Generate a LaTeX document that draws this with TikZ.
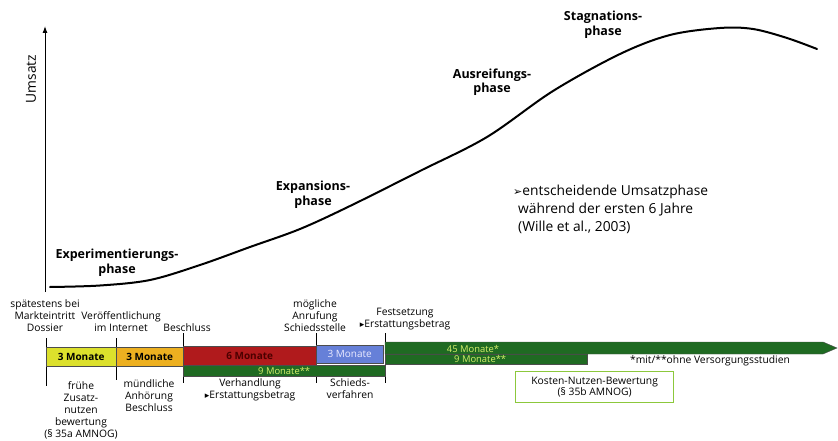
\documentclass[tikz,border=0pt]{standalone}
\usepackage{fontspec}
\setmainfont{Open Sans}
\newfontfamily\symf{DejaVu Sans}
\usetikzlibrary{arrows.meta}
\definecolor{cyel}{HTML}{DCE02C}
\definecolor{cora}{HTML}{EDB020}
\definecolor{cred}{HTML}{B01A1C}
\definecolor{cblu}{HTML}{6680D8}
\definecolor{cgrn}{HTML}{1F6A22}
\definecolor{cgtx}{HTML}{D6F06A}
\definecolor{cbox}{HTML}{8CC83C}
\tikzset{
  lbl/.style={align=center,font=\fontsize{10.3}{12}\selectfont,inner sep=0pt},
  phase/.style={align=center,font=\fontsize{12.5}{14.5}\selectfont\bfseries,inner sep=0pt},
  bar/.style={draw=black!70,line width=0.4pt,inner sep=0pt,anchor=north west,font=\fontsize{10}{10}\selectfont\bfseries},
  gbar/.style={bar,fill=cgrn,text=cgtx,font=\fontsize{9.4}{9}\selectfont},
  tick/.style={line width=0.9pt},
}
\begin{document}
\begin{tikzpicture}[x=1pt,y=-1pt]
\useasboundingbox (0,0) rectangle (838,441);
% axis
\coordinate (ax0) at (45,292);
\coordinate (ax1) at (45,26);
\draw[line width=1pt,-{Latex[length=7pt,width=5pt]}] (ax0) -- (ax1);
\node[rotate=90,font=\fontsize{13.8}{14}\selectfont,inner sep=0pt] (ums) at (31,79) {Umsatz};
% curve
\draw[line width=2pt,line cap=round] plot[smooth,tension=0.55] coordinates {
 (50,287) (100,285.5) (150,280) (200,265) (250,247) (300,229) (350,206) (420,171)
 (487,137) (553,91) (620,54) (670,35) (720,28) (753,29) (787,38) (817,49)};
% phases
\node[phase] (p1) at (117,263) {Experimentierungs-\\phase};
\node[phase] (p2) at (313,195) {Expansions-\\phase};
\node[phase] (p3) at (492,82) {Ausreifungs-\\phase};
\node[phase] (p4) at (603,25) {Stagnations-\\phase};
\node[align=left,anchor=north west,inner sep=0pt,font=\fontsize{13.8}{18}\selectfont] (note) at (513,185)
 {{\symf\fontsize{11}{12}\selectfont ➢}entscheidende Umsatzphase\\\hspace{5pt}während der ersten 6 Jahre\\\hspace{5pt}(Wille et al., 2003)};
% ticks
\draw[tick] (46,338) -- (46,386);
\draw[tick] (116,338) -- (116,380);
\draw[tick] (183,333) -- (183,383);
\draw[tick] (316,333) -- (316,383);
\draw[tick] (385,333) -- (385,383);
% bars
\node[bar,fill=cyel,minimum width=70pt,minimum height=19pt] (b1) at (46,347) {3 Monate};
\node[bar,fill=cora,minimum width=67pt,minimum height=19pt] (b2) at (116,347) {3 Monate};
\node[bar,fill=cred,text=black!70!red,minimum width=133pt,minimum height=19pt] (b3) at (183,346) {6 Monate};
\node[bar,fill=cblu,text=white!92!blue,font=\fontsize{10}{10}\selectfont,minimum width=67pt,minimum height=18pt] (b4) at (316,345) {3 Monate};
\node[gbar,minimum width=202pt,minimum height=11pt] (g1) at (183,365) {9 Monate**};
\node[gbar,minimum width=202pt,minimum height=10pt] (g3) at (385,354) {\hspace*{-6pt}9 Monate**\hspace*{+6pt}};
\draw[draw=black!70,fill=cgrn,line width=0.4pt] (385,342) -- (823,342) -- (837,348) -- (823,354) -- (385,354) -- cycle;
\node[text=cgtx,font=\fontsize{9.4}{9}\selectfont,inner sep=0pt] (g2) at (473,348.5) {45 Monate*};
\node[lbl] (fn) at (710,361) {*mit/**ohne Versorgungsstudien};
\node[draw=cbox,line width=1.2pt,minimum width=158pt,minimum height=31pt,anchor=north west,align=center,inner sep=0pt,font=\fontsize{10.3}{11.5}\selectfont] (knb) at (515,371) {Kosten-Nutzen-Bewertung\\(§ 35b AMNOG)};
% labels above
\node[lbl,anchor=south] (t1) at (45,332) {spätestens bei\\Markteintritt\\Dossier};
\node[lbl,anchor=south] (t2) at (121,332) {Veröffentlichung\\im Internet};
\node[lbl,anchor=south] (t3) at (187,332) {Beschluss};
\node[lbl,anchor=south] (t4) at (315,332) {mögliche\\Anrufung\\Schiedsstelle};
\node[lbl,anchor=south] (t5) at (405,330) {Festsetzung\\{\symf\fontsize{9}{8}\selectfont ▸}Erstattungsbetrag};
% labels below
\node[lbl,anchor=north] (u1) at (81,381) {frühe\\Zusatz-\\nutzen\\bewertung\\(§ 35a AMNOG)};
\node[lbl,anchor=north] (u2) at (149,379) {mündliche\\Anhörung\\Beschluss};
\node[lbl,anchor=north] (u3) at (250,378) {Verhandlung\\{\symf\fontsize{9}{8}\selectfont ▸}Erstattungsbetrag};
\node[lbl,anchor=north] (u4) at (350,378) {Schieds-\\verfahren};
\end{tikzpicture}
\end{document}
